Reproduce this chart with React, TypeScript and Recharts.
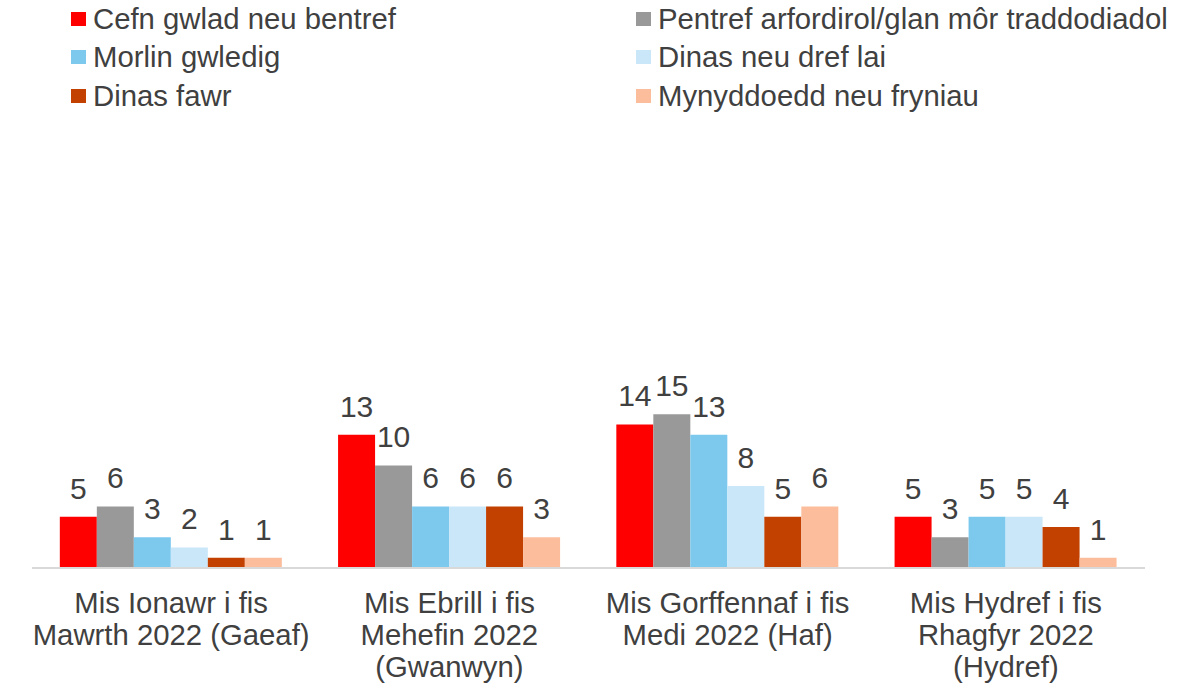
import React from "react";
import { BarChart, Bar, XAxis, YAxis, LabelList, Legend } from "recharts";

const categoryLines: string[][] = [
  ["Mis Ionawr i fis", "Mawrth 2022 (Gaeaf)"],
  ["Mis Ebrill i fis", "Mehefin 2022", "(Gwanwyn)"],
  ["Mis Gorffennaf i fis", "Medi 2022 (Haf)"],
  ["Mis Hydref i fis", "Rhagfyr 2022", "(Hydref)"],
];

const cefnGwlad = [5, 13, 14, 5];
const pentrefArfordirol = [6, 10, 15, 3];
const morlinGwledig = [3, 6, 13, 5];
const dinasNeuDref = [2, 6, 8, 5];
const dinasFawr = [1, 6, 5, 4];
const mynyddoedd = [1, 3, 6, 1];

const seriesNames = [
  "Cefn gwlad neu bentref",
  "Pentref arfordirol/glan môr traddodiadol",
  "Morlin gwledig",
  "Dinas neu dref lai",
  "Dinas fawr",
  "Mynyddoedd neu fryniau",
];
const seriesKeys = ["s0", "s1", "s2", "s3", "s4", "s5"];
const seriesColors = ["#fe0000", "#999999", "#7dc9ee", "#c9e7f8", "#c24000", "#fcbd9c"];
const seriesValues = [cefnGwlad, pentrefArfordirol, morlinGwledig, dinasNeuDref, dinasFawr, mynyddoedd];

const data = categoryLines.map((lines, i) => {
  const row: Record<string, any> = { name: lines.join(" "), lines };
  seriesKeys.forEach((k, s) => {
    row[k] = seriesValues[s][i];
  });
  return row;
});

const FONT = '"Liberation Sans", Arial, sans-serif';
const TEXT = "#404040";
const TEXT_SIZE = 29.3;
const LABEL_SIZE = 30;

// Legend order: left column series 0,2,4 ; right column series 1,3,5
const legendLayout = [
  { idx: 0, col: 0, row: 0 },
  { idx: 1, col: 1, row: 0 },
  { idx: 2, col: 0, row: 1 },
  { idx: 3, col: 1, row: 1 },
  { idx: 4, col: 0, row: 2 },
  { idx: 5, col: 1, row: 2 },
];

const renderLegend = () => (
  <div style={{ position: "relative", width: 1196, height: 120, fontFamily: FONT }}>
    {legendLayout.map(({ idx, col, row }) => {
      const left = col === 0 ? 71 : 636;
      const centerY = 18.5 + row * 38.5;
      return (
        <div key={idx} style={{ position: "absolute", left, top: centerY - 20, height: 40, display: "flex", alignItems: "center" }}>
          <span style={{ display: "inline-block", width: 15, height: 14, background: seriesColors[idx], marginRight: 7 }} />
          <span style={{ fontSize: TEXT_SIZE, color: TEXT, whiteSpace: "nowrap", lineHeight: "40px" }}>{seriesNames[idx]}</span>
        </div>
      );
    })}
  </div>
);

const CategoryTick = (props: any) => {
  const { x, y, index } = props;
  const lines = categoryLines[index] || [];
  return (
    <g>
      {lines.map((ln, i) => (
        <text key={i} x={x} y={y + 45 + i * 32} textAnchor="middle" fontSize={TEXT_SIZE} fontFamily={FONT} fill={TEXT}>
          {ln}
        </text>
      ))}
    </g>
  );
};

export default function App() {
  return (
    <div style={{ position: "absolute", left: 0, top: 0, width: 1196, height: 686, background: "#fff" }}>
      <BarChart
        width={1196}
        height={686}
        data={data}
        margin={{ top: 209, right: 51, bottom: 0, left: 32 }}
        barCategoryGap="10%"
        barGap={0}
      >
        <XAxis
          dataKey="name"
          axisLine={{ stroke: "#d9d9d9", strokeWidth: 2 }}
          tickLine={false}
          tickSize={0}
          tickMargin={0}
          height={118}
          interval={0}
          tick={<CategoryTick />}
        />
        <YAxis hide domain={[0, 35]} />
        <Legend verticalAlign="middle" layout="horizontal" wrapperStyle={{ top: 0, left: 0, width: 1196, height: 120 }} content={renderLegend} />
        {seriesKeys.map((k, s) => (
          <Bar key={k} dataKey={k} name={seriesNames[s]} fill={seriesColors[s]} isAnimationActive={false}>
            <LabelList dataKey={k} position="top" offset={18} fontSize={LABEL_SIZE} fontFamily={FONT} fill={TEXT} />
          </Bar>
        ))}
      </BarChart>
    </div>
  );
}
